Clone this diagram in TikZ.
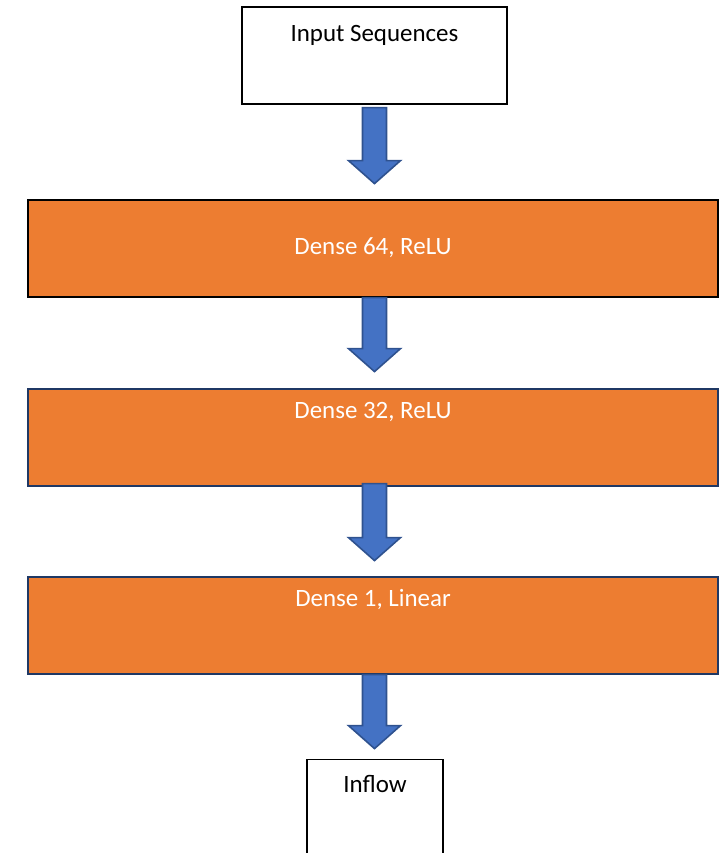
\documentclass[tikz,border=0pt]{standalone}
\usepackage{fontspec}
\setmainfont{Carlito}
\usetikzlibrary{calc,positioning}

\definecolor{layerorange}{HTML}{ED7D31}
\definecolor{arrowblue}{HTML}{4472C4}
\definecolor{arrowedge}{HTML}{2F528F}
\definecolor{layeredge}{HTML}{1F3864}

% block arrow from tail (#1) straight down to the level of tip (#2)
\newcommand{\blockarrow}[2]{%
  \draw[flowarrow] ($(#1)+(-12,0)$) -- ($(#1 |- #2)+(-12,-23)$) -- ($(#1 |- #2)+(-26,-23)$)
    -- (#1 |- #2) -- ($(#1 |- #2)+(26,-23)$) -- ($(#1 |- #2)+(12,-23)$) -- ($(#1)+(12,0)$) -- cycle;}

\begin{document}
\begin{tikzpicture}[
  x=0.75pt, y=-0.75pt,
  every node/.style={font=\fontsize{18.7}{22}\selectfont},
  iobox/.style={draw=black, line width=0.9pt, fill=white, minimum height=72.75pt},
  layer/.style={draw=layeredge, line width=1.5pt, fill=layerorange,
    minimum width=517.5pt, minimum height=72.75pt},
  layertext/.style={text=white, inner sep=0pt},
  iotext/.style={text=black, inner sep=0pt},
  flowarrow/.style={draw=arrowedge, line width=1.2pt, fill=arrowblue, line join=miter},
  node distance=70.5pt
]
\clip (0,0) rectangle (720,853);

% ---------------- boxes ----------------
\node[iobox, minimum width=198.75pt] (inp) at (374.5,55.5) {};
\node[layer, draw=black, below=of inp, xshift=-1.1pt] (d64) {};
\node[layer, below=67.5pt of d64] (d32) {};
\node[layer, below=66.75pt of d32] (d1) {};
\node[iobox, minimum width=102pt, below=63pt of d1, xshift=1.5pt] (out) {};

% ---------------- labels ----------------
\node[iotext] (tinp) at ([yshift=-21.75pt]inp.north) {Input Sequences};
\node[layertext] (t64) at (d64) {Dense 64, ReLU};
\node[layertext] (t32) at ([yshift=-18pt]d32.north) {Dense 32, ReLU};
\node[layertext] (t1) at ([yshift=-18pt]d1.north) {Dense 1, Linear};
\node[iotext] (tout) at ([yshift=-18.75pt]out.north) {Inflow};

% ---------------- arrows ----------------
\coordinate (a1s) at ([yshift=-2.25pt]inp.south);
\coordinate (a1e) at ([yshift=11.25pt]d64.north);
\coordinate (a2s) at ([xshift=1.1pt]d64.south);
\coordinate (a2e) at ([yshift=12pt]d32.north);
\coordinate (a3s) at ([xshift=1.1pt,yshift=2.25pt]d32.south);
\coordinate (a3e) at ([yshift=11.25pt]d1.north);
\coordinate (a4s) at ([xshift=1.1pt]d1.south);
\coordinate (a4e) at ([yshift=7.5pt]out.north);
\foreach \a in {1,...,4} {
  \blockarrow{a\a s}{a\a e}
}
\end{tikzpicture}
\end{document}
